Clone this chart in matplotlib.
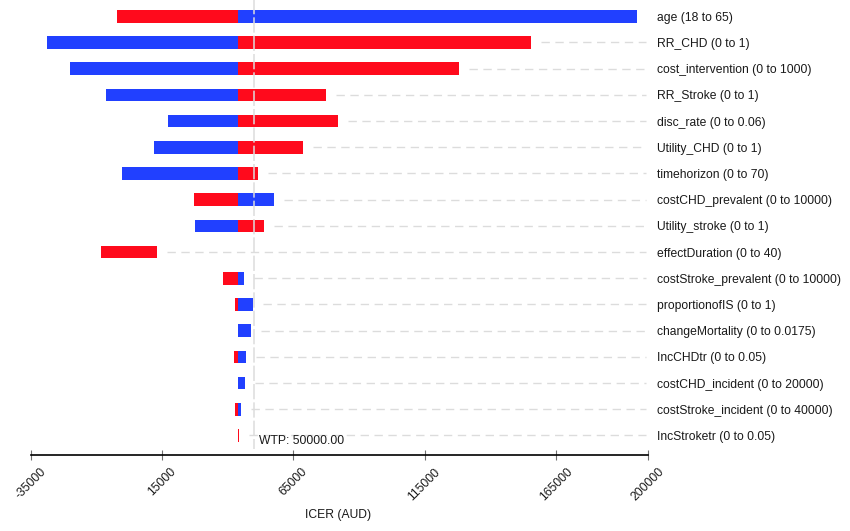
import numpy as np
import matplotlib
matplotlib.use("Agg")
import matplotlib.pyplot as plt

plt.rcParams['font.family'] = ['Liberation Sans', 'DejaVu Sans']

# parameters of the one-way sensitivity analysis (top to bottom)
params = ['age (18 to 65)', 'RR_CHD (0 to 1)', 'cost_intervention (0 to 1000)',
          'RR_Stroke (0 to 1)', 'disc_rate (0 to 0.06)', 'Utility_CHD (0 to 1)',
          'timehorizon (0 to 70)', 'costCHD_prevalent (0 to 10000)',
          'Utility_stroke (0 to 1)', 'effectDuration (0 to 40)',
          'costStroke_prevalent (0 to 10000)', 'proportionofIS (0 to 1)',
          'changeMortality (0 to 0.0175)', 'IncCHDtr (0 to 0.05)',
          'costCHD_incident (0 to 20000)', 'costStroke_incident (0 to 40000)',
          'IncStroketr (0 to 0.05)']

base_icer = 43900
wtp = 50000

# red and blue bar ends (ICER, AUD); None = no bar
red_from = [-2100, base_icer, base_icer, base_icer, base_icer, base_icer, base_icer,
            27300, base_icer, -8100, 38450, 42900, None, 42400, None, 43000, base_icer]
red_to = [base_icer, 155400, 128200, 77600, 82100, 68900, 51550,
          base_icer, 53850, 13200, base_icer, base_icer, None, base_icer, None, base_icer, 44300]
blue_from = [base_icer, -28800, -19900, -6100, 17300, 11950, 0,
             base_icer, 27700, None, base_icer, base_icer, base_icer, base_icer, base_icer, base_icer, None]
blue_to = [195900, base_icer, base_icer, base_icer, base_icer, base_icer, base_icer,
           57750, base_icer, None, 46350, 49650, 49000, 47000, 46600, 45200, None]

x_ticks = [-35000, 15000, 65000, 115000, 165000, 200000]

RED = '#FF0A1C'
BLUE = '#2140FF'
GRID = '#DCDCDC'
TXT = '#1a1a1a'

fig = plt.figure(figsize=(8.5, 5.31), dpi=100)
ax = fig.add_axes([20 / 850, 0, 630 / 850, 1])

rows = np.arange(len(params))
for i in rows:
    if red_from[i] is not None:
        ax.barh(i, red_to[i] - red_from[i], left=red_from[i], height=0.48, color=RED, zorder=2)
    if blue_from[i] is not None:
        ax.barh(i, blue_to[i] - blue_from[i], left=blue_from[i], height=0.48, color=BLUE, zorder=2)

# dashed leader lines from bar end to label
gap = 3800
line_end = 199300
for i in rows:
    ends = [v for v in (red_to[i], blue_to[i], red_from[i], blue_from[i]) if v is not None]
    start = max(ends) + gap
    if start < line_end:
        ax.hlines(i, start, line_end, colors=GRID, linewidth=1, linestyles=(0, (6, 4)), zorder=1)

# WTP line
ax.vlines(wtp, -0.7, 16.5, colors=GRID, linewidth=1.1, linestyles=(0, (10, 2)), zorder=3)
ax.text(wtp + 2000, 16.2, 'WTP: %.2f' % wtp, fontsize=8.7, color=TXT, va='center', ha='left')

ax.set_xlim(-39000, 200800)
ax.set_ylim((531 - 16.3) / 26.2, -16.3 / 26.2)

for s in ['top', 'left', 'right']:
    ax.spines[s].set_visible(False)
ax.spines['bottom'].set_position(('data', (455 - 16.3) / 26.2))
ax.spines['bottom'].set_bounds(x_ticks[0], x_ticks[-1])
ax.spines['bottom'].set_linewidth(1.2)
ax.spines['bottom'].set_color('black')

ax.set_xticks(x_ticks)
ax.set_xticklabels([str(t) for t in x_ticks], rotation=45, fontsize=8.7, color=TXT)
ax.tick_params(axis='x', direction='inout', length=7.2, width=0.8, color='#707070', pad=4.3)

ax.yaxis.tick_right()
ax.set_yticks(rows)
ax.set_yticklabels(params, fontsize=8.7, color=TXT)
ax.tick_params(axis='y', length=0, pad=5)

fig.text(338 / 850, 1 - 515 / 531, 'ICER (AUD)', fontsize=8.7, color=TXT, ha='center', va='center')

fig.savefig('out.png', dpi=100)
